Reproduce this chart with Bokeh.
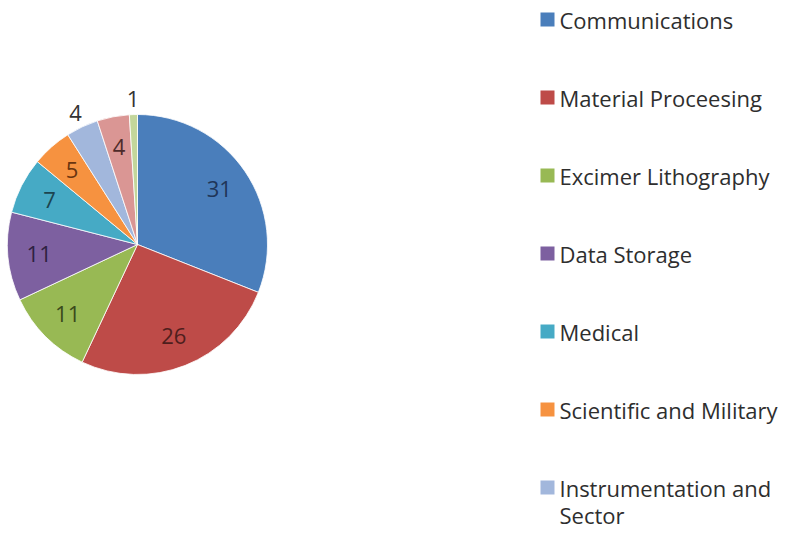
import math
from bokeh.plotting import figure
from bokeh.models import Range1d, ColumnDataSource
from bokeh.core.properties import value
from bokeh.embed import file_html
from bokeh.resources import INLINE

# ---- data ----
categories = ["Communications", "Material Proceesing", "Excimer Lithography",
              "Data Storage", "Medical", "Scientific and Military",
              "Instrumentation and Sector", "Other (not shown)", "Other 2 (not shown)"]
values = [31, 26, 11, 11, 7, 5, 4, 4, 1]
legend_count = 7  # only seven legend entries are visible in the reference
legend_lines = {"Instrumentation and Sector": ["Instrumentation and", "Sector"]}

# ---- styles ----
colors = ["#4A7EBB", "#BE4B48", "#98B954", "#7D60A0", "#46AAC5",
          "#F69240", "#A2B7DC", "#DA9694", "#C3D69B"]
label_colors = ["#1F3558", "#4E1E1D", "#3A4A1C", "#2E2140", "#1C4550",
                "#6A3510", "#333333", "#4E2A2A", "#333333"]
outside = [False, False, False, False, False, False, True, False, True]

W, H = 784, 534
# data coords: x = picture pixel x, y = 550 - picture pixel y
p = figure(width=W, height=H, output_backend="svg", toolbar_location=None,
           x_range=Range1d(0, 784), y_range=Range1d(16, 550),
           min_border=0, min_border_left=0, min_border_right=0,
           min_border_top=0, min_border_bottom=0)
p.axis.visible = False
p.grid.visible = False
p.outline_line_color = None
p.background_fill_color = "white"
p.border_fill_color = "white"

cx, cy, R = 137, 550 - 244, 130
total = sum(values)
starts, ends, lx, ly = [], [], [], []
cum = 0.0
for v, out in zip(values, outside):
    a0 = math.pi / 2 - 2 * math.pi * cum / total
    a1 = math.pi / 2 - 2 * math.pi * (cum + v) / total
    starts.append(a0)
    ends.append(a1)
    mid = (a0 + a1) / 2
    r = 1.12 * R if out else 0.76 * R
    lx.append(cx + r * math.cos(mid))
    ly.append(cy + r * math.sin(mid))
    cum += v

src = ColumnDataSource(dict(start=starts, end=ends, color=colors,
                            lx=lx, ly=ly, txt=[str(v) for v in values],
                            tc=label_colors))
p.wedge(x=cx, y=cy, radius=R, start_angle="end", end_angle="start",
        fill_color="color", line_color="white", line_width=1,
        line_alpha=0.8, source=src)
p.text(x="lx", y="ly", text="txt", text_color="tc", source=src,
       text_align="center", text_baseline="middle",
       text_font=value("Open Sans"), text_font_size="22px")

# legend (manual)
leg_x, leg_y0, leg_dy, line_dy = 547, 19, 78, 27
sq = dict(x=[], y=[], c=[])
tl = dict(x=[], y=[], t=[])
for i in range(legend_count):
    yy = 550 - (leg_y0 + i * leg_dy)
    sq["x"].append(leg_x)
    sq["y"].append(yy)
    sq["c"].append(colors[i])
    lines = legend_lines.get(categories[i], [categories[i]])
    for j, ln in enumerate(lines):
        tl["x"].append(leg_x + 12)
        tl["y"].append(yy - j * line_dy)
        tl["t"].append(ln)
p.rect(x="x", y="y", width=14, height=14, fill_color="c", line_color=None,
       source=ColumnDataSource(sq))
p.text(x="x", y="y", text="t", source=ColumnDataSource(tl),
       text_color="#2E2E2E", text_align="left", text_baseline="middle",
       text_font=value("Open Sans"), text_font_size="22px")

open("out.html", "w").write(file_html(p, INLINE))
